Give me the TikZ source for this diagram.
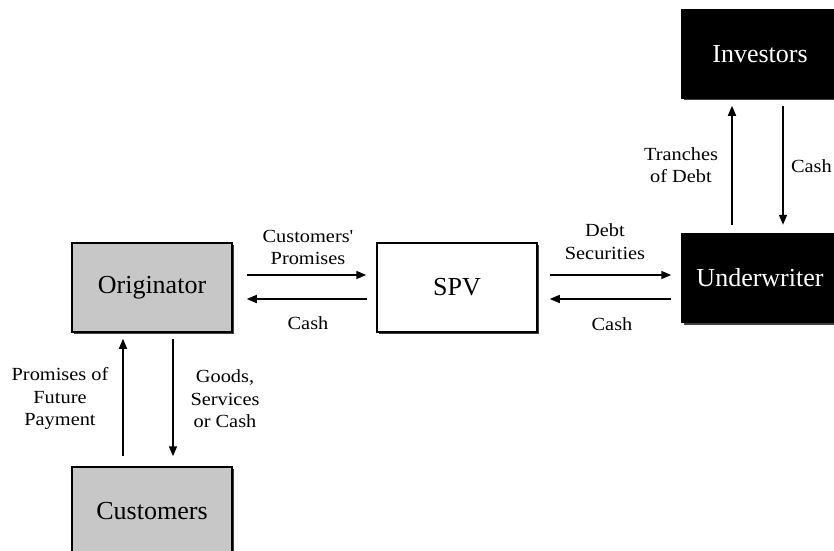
\documentclass[tikz,border=0pt]{standalone}
\usepackage{fontspec}
\setmainfont{Liberation Serif}
\newfontfamily\lblfont[FakeStretch=1.1]{Liberation Serif}
\usetikzlibrary{arrows.meta,shadows}
\begin{document}
\begin{tikzpicture}[x=1pt,y=-1pt,
  box/.style={draw=black,line width=1.5pt,minimum width=160pt,minimum height=89pt,inner sep=0pt,
    font=\fontsize{26}{30}\selectfont,drop shadow={shadow xshift=2pt,shadow yshift=-2pt,fill=black!75,opacity=1}},
  greybox/.style={box,fill=black!22},
  whitebox/.style={box,fill=white},
  darkbox/.style={box,fill=black,text=white,minimum width=156pt},
  arr/.style={line width=1.6pt,-{Triangle[length=10pt,width=8pt]}},
  lbl/.style={font=\lblfont\fontsize{18.5}{22.5}\selectfont,align=center,inner sep=0pt}]
\useasboundingbox (0,0) rectangle (834,550);
\clip (0,0) rectangle (834,550);
\fill[white] (0,0) rectangle (834,550);
% boxes
\node[greybox]  (orig)  at (152,287.5) {Originator};
\node[whitebox] (spv)   at (457,287.5) {SPV};
\node[darkbox]  (under) at (760,278) {Underwriter};
\node[darkbox,minimum height=88pt] (inv) at (760,54) {Investors};
\node[greybox,minimum height=88pt]  (cust)  at (152,511) {Customers};
% Originator <-> SPV
\draw[arr] ([xshift=14pt,yshift=12.5pt]orig.east) -- ([xshift=-10pt,yshift=12.5pt]spv.west);
\draw[arr] ([xshift=-9pt,yshift=-11.5pt]spv.west) -- ([xshift=14pt,yshift=-11.5pt]orig.east);
% SPV <-> Underwriter
\draw[arr,shorten >=10pt] ([xshift=12pt,yshift=12.5pt]spv.east) coordinate (s1) -- (s1 -| under.west);
\draw[arr,shorten <=10pt] ([xshift=12pt,yshift=-11.5pt]spv.east) coordinate (s2) (s2 -| under.west) -- (s2);
% Underwriter <-> Investors
\draw[arr] ([xshift=-28pt,yshift=8pt]under.north) -- ([xshift=-28pt,yshift=-7pt]inv.south);
\draw[arr] ([xshift=23pt,yshift=-7pt]inv.south) -- ([xshift=23pt,yshift=8pt]under.north);
% Customers <-> Originator
\draw[arr] ([xshift=-29pt,yshift=10pt]cust.north) -- ([xshift=-29pt,yshift=-6pt]orig.south);
\draw[arr] ([xshift=21pt,yshift=-6pt]orig.south) -- ([xshift=21pt,yshift=10pt]cust.north);
% labels
\node[lbl] (l1) at (308,247.5) {Customers'\\Promises};
\node[lbl,anchor=base] (l2) at (308,329) {Cash};
\node[lbl] (l3) at (605,241.5) {Debt\\Securities};
\node[lbl,anchor=base] (l4) at (612,330) {Cash};
\node[lbl] (l5) at (681,165) {Tranches\\of Debt};
\node[lbl,anchor=base east] (l6) at (832,172) {Cash};
\node[lbl] (l7) at (60,398.5) {Promises of\\Future\\Payment};
\node[lbl] (l8) at (225,399) {Goods,\\Services\\or Cash};
\end{tikzpicture}
\end{document}
